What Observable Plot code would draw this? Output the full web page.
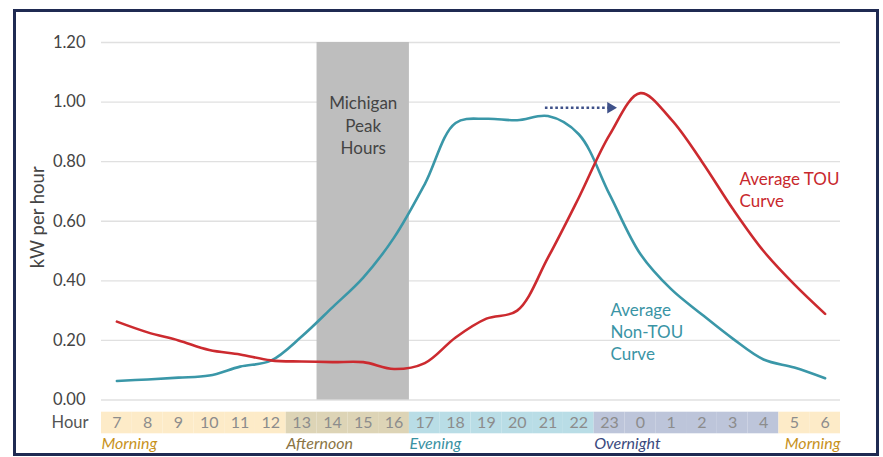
<!DOCTYPE html>
<html>
<head>
<meta charset="utf-8">
<script src="https://cdn.jsdelivr.net/npm/d3@7"></script>
<script src="https://cdn.jsdelivr.net/npm/@observablehq/plot@0.6"></script>
<style>
  html, body { margin: 0; padding: 0; background: #fff; }
  #wrap { position: relative; width: 883px; height: 457px; }
  #border { position: absolute; left: 13px; top: 9px; width: 860px; height: 441px; border: 3px solid #1f2a52; pointer-events: none; }
  svg { display: block; }
</style>
</head>
<body>
<div id="wrap"><div id="border"></div></div>
<script>
const hours = [7,8,9,10,11,12,13,14,15,16,17,18,19,20,21,22,23,0,1,2,3,4,5,6];
const nonTOU = [0.064,0.069,0.075,0.082,0.112,0.132,0.213,0.311,0.411,0.545,0.725,0.930,0.944,0.939,0.953,0.892,0.690,0.490,0.372,0.287,0.206,0.136,0.109,0.073];
const tou    = [0.263,0.227,0.200,0.168,0.153,0.133,0.129,0.127,0.127,0.104,0.124,0.210,0.273,0.300,0.478,0.679,0.890,1.030,0.942,0.800,0.642,0.500,0.388,0.289];
const periods = ["Morning","Morning","Morning","Morning","Morning","Morning",
  "Afternoon","Afternoon","Afternoon","Afternoon",
  "Evening","Evening","Evening","Evening","Evening","Evening",
  "Overnight","Overnight","Overnight","Overnight","Overnight","Overnight",
  "Morning","Morning"];
const yTicks = [0, 0.2, 0.4, 0.6, 0.8, 1.0, 1.2];
const peakHours = [14, 17]; // 2pm to 5pm

const bandFill = {Morning: "#fdebc8", Afternoon: "#ddd4b6", Evening: "#b9dde6", Overnight: "#bdc5da"};
const labelFill = {Morning: "#c8921c", Afternoon: "#8a7444", Evening: "#3a92a3", Overnight: "#3b4a7e"};

const groups = [];
periods.forEach((p, i) => {
  if (i === 0 || periods[i - 1] !== p) groups.push({p, start: i, end: i});
  else groups[groups.length - 1].end = i;
});
const lastGroup = groups[groups.length - 1];
const startGroups = groups.slice(0, -1);

const idx = h => hours.indexOf(h);
const font = "Lato, 'Open Sans', sans-serif";

const chart = Plot.plot({
  width: 883,
  height: 457,
  marginLeft: 101,
  marginRight: 43,
  marginTop: 42,
  marginBottom: 57.5,
  x: {domain: [-0.5, 23.5], axis: null},
  y: {domain: [0, 1.2], axis: null},
  style: {fontFamily: font, background: "transparent"},
  marks: [
    Plot.ruleY(yTicks, {stroke: "#e0e0e0", strokeWidth: 1.3}),
    Plot.rect([peakHours], {x1: d => idx(d[0]) - 0.5, x2: d => idx(d[1]) - 0.5, y1: 0, y2: 1.2, fill: "#bebebe"}),
    Plot.text(["Michigan\nPeak\nHours"], {x: d => (idx(peakHours[0]) + idx(peakHours[1])) / 2 - 0.5, y: 0.925, fontSize: 17, lineHeight: 1.32, fill: "#444"}),
    Plot.line(nonTOU, {x: (d, i) => i, y: d => d, stroke: "#3a97a8", strokeWidth: 2.6, curve: "catmull-rom"}),
    Plot.line(tou, {x: (d, i) => i, y: d => d, stroke: "#cc2a2f", strokeWidth: 2.6, curve: "catmull-rom"}),
    Plot.link([0], {x1: 13.9, y1: 0.981, x2: 15.95, y2: 0.981, stroke: "#3f5189", strokeWidth: 2.6, strokeDasharray: "2.6 2.6"}),
    Plot.dot([0], {x: 16.03, y: 0.981, symbol: "triangle", rotate: 90, r: 4.2, fill: "#3f5189", stroke: "none"}),
    Plot.text(["Average TOU\nCurve"], {x: 20.22, y: 0.707, textAnchor: "start", fontSize: 17, lineHeight: 1.3, fill: "#c8282d"}),
    Plot.text(["Average\nNon-TOU\nCurve"], {x: 16.03, y: 0.233, textAnchor: "start", fontSize: 17, lineHeight: 1.3, fill: "#3a94a5"}),
    Plot.text(yTicks, {y: d => d, frameAnchor: "left", dx: -16, textAnchor: "end", text: d => d3.format(".2f")(d), fontSize: 16.5, fill: "#444"}),
    Plot.text(["kW per hour"], {frameAnchor: "left", dx: -63, dy: -4, rotate: -90, textAnchor: "middle", fontSize: 18.5, fill: "#444"}),
    Plot.rect(hours, {x1: (d, i) => i - 0.5, x2: (d, i) => i + 0.5, y1: 0, y2: 0, insetTop: 12.2, insetBottom: -33.8, fill: (d, i) => bandFill[periods[i]]}),
    Plot.text(hours, {x: (d, i) => i, y: 0, dy: 23, text: d => String(d), fontSize: 16, fill: "#8c8c8c"}),
    Plot.text(["Hour"], {x: -0.5, y: 0, dx: -13, dy: 23, textAnchor: "end", fontSize: 16.5, fill: "#555"}),
    Plot.text(startGroups, {x: d => d.start - 0.5, y: 0, dy: 44, text: "p", textAnchor: "start", fontStyle: "italic", fontSize: 16, fill: d => labelFill[d.p]}),
    Plot.text([lastGroup], {x: d => d.end + 0.5, y: 0, dy: 44, text: "p", textAnchor: "end", fontStyle: "italic", fontSize: 16, fill: d => labelFill[d.p]})
  ]
});
document.getElementById("wrap").prepend(chart);
</script>
</body>
</html>
